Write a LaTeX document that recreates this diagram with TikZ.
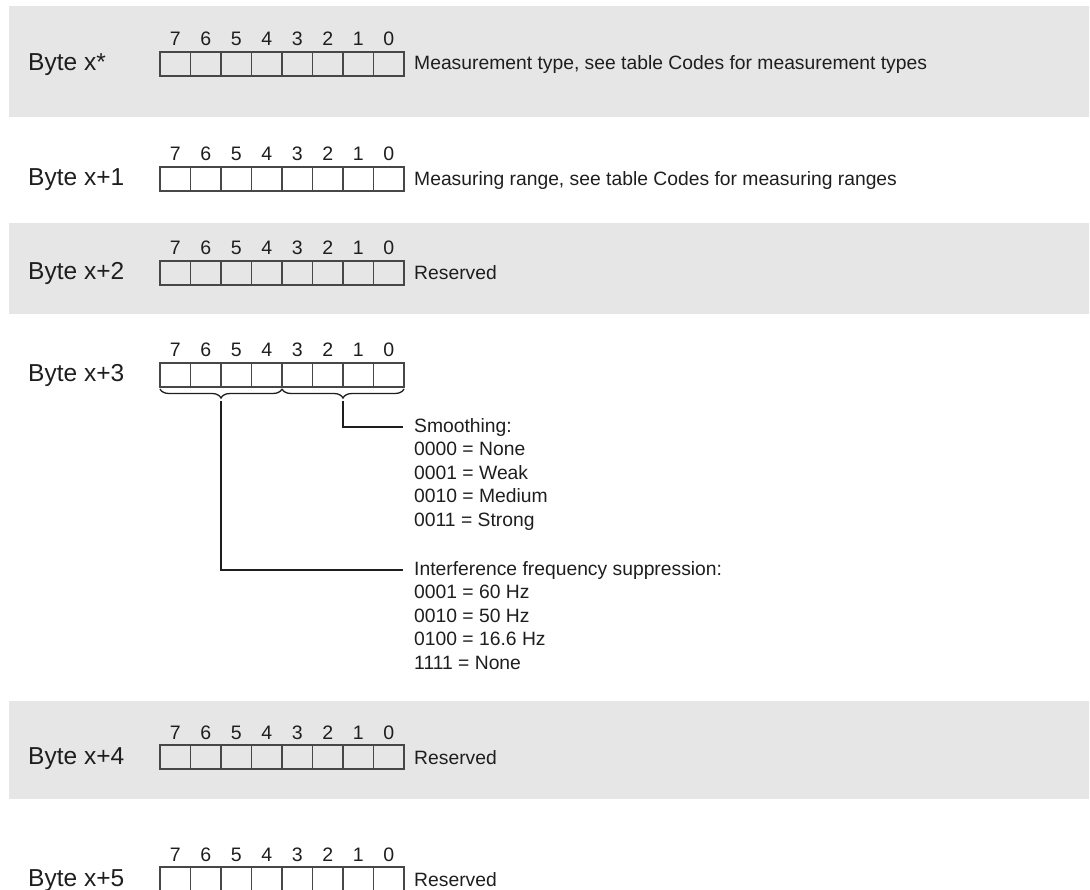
\documentclass[tikz,border=0pt]{standalone}
\usepackage{fontspec}
\setmainfont{Liberation Sans}
\usepackage{xcolor}
\usetikzlibrary{calc, decorations.pathreplacing}

\definecolor{bandgrey}{HTML}{E6E6E6}
\definecolor{boxline}{HTML}{474747}
\definecolor{inktext}{HTML}{1E1E1E}

\begin{document}
\begin{tikzpicture}[
        x=1pt, y=-1pt,
        band/.style={fill=bandgrey, draw=none},
        cell/.style={draw=boxline, line width=1.2pt, minimum width=30.5pt,
                     minimum height=24pt, inner sep=0pt, outer sep=0pt},
        bitno/.style={font=\fontsize{19.5}{22}\selectfont, text=inktext,
                      anchor=base, inner sep=0pt},
        bytelbl/.style={font=\fontsize{24.5}{28}\selectfont, text=inktext,
                        anchor=base west, inner sep=0pt},
        desc/.style={font=\fontsize{19.3}{23}\selectfont, text=inktext,
                     anchor=base west, inner sep=0pt},
        brc/.style={draw=inktext, line width=1.3pt, decorate,
                    decoration={brace, mirror, amplitude=9pt}},
        conn/.style={draw=inktext, line width=1.6pt},
    ]
    \useasboundingbox (0,0) rectangle (1090,890);
    \clip (0,0) rectangle (1090,890);

    % grey bands
    \fill[band] (9,6) rectangle (1089,117);
    \fill[band] (9,223) rectangle (1089,314);
    \fill[band] (9,701) rectangle (1089,799);

    % registers
    \foreach \r/\ty/\lbl in {0/52/{Byte x*}, 1/167/{Byte x+1}, 2/261/{Byte x+2},
                             3/363/{Byte x+3}, 4/745/{Byte x+4}, 5/867/{Byte x+5}}
    {
        \node[bytelbl] (lbl\r) at (28,\ty+19) {\lbl};
        \foreach \b in {7,...,0}
        {
            \node[cell] (b\r-\b) at (175.25+30.5*7-30.5*\b,\ty+12) {};
            \node[bitno] (n\r-\b) at (175.25+30.5*7-30.5*\b,\ty-6) {\b};
        }
    }

    \node[desc] (d0) at ($(b0-0.east |- lbl0.base)+(10,-1)$) {Measurement type, see table Codes for measurement types};
    \node[desc] (d1) at ($(b1-0.east |- lbl1.base)+(10,0)$) {Measuring range, see table Codes for measuring ranges};
    \node[desc] (d2) at ($(b2-0.east |- lbl2.base)+(10,0)$) {Reserved};
    \node[desc] (d4) at ($(b4-0.east |- lbl4.base)+(10,0)$) {Reserved};
    \node[desc] (d5) at ($(b5-0.east |- lbl5.base)+(10,0)$) {Reserved};

    % braces under byte x+3
    \draw[brc] ($(b3-7.south west)+(0,2)$) -- ($(b3-4.south east)+(0,2)$);
    \draw[brc] ($(b3-3.south west)+(0,2)$) -- ($(b3-0.south east)+(0,2)$);
    \coordinate (ifTip) at ($(b3-7.south west)!0.5!(b3-4.south east)+(0,14)$);
    \coordinate (smTip) at ($(b3-3.south west)!0.5!(b3-0.south east)+(0,14)$);

    \foreach \t [count=\i from 0] in {Smoothing:, 0000 = None, 0001 = Weak,
                                      0010 = Medium, 0011 = Strong}
        \node[desc] (sm\i) at (414,432+23.5*\i) {\t};
    \foreach \t [count=\i from 0] in {Interference frequency suppression:, 0001 = 60 Hz,
                                      0010 = 50 Hz, 0100 = 16.6 Hz, 1111 = None}
        \node[desc] (if\i) at (414,575+23.5*\i) {\t};

    \coordinate (smEnd) at ($(sm0.west)+(-11,0)$);
    \coordinate (ifEnd) at ($(if0.west)+(-11,0)$);
    \draw[conn] (smTip) |- (smEnd);
    \draw[conn] (ifTip) |- (ifEnd);
\end{tikzpicture}
\end{document}
